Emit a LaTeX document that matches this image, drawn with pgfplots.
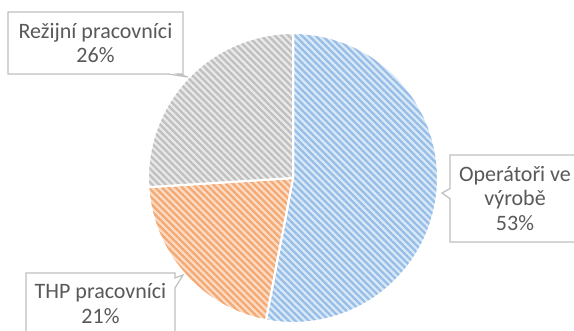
\documentclass[border=0pt]{standalone}
\usepackage{pgfplots}
\pgfplotsset{compat=1.18}
\usepackage{fontspec}
\setmainfont{Carlito}
\usetikzlibrary{patterns.meta,shapes.callouts}
\definecolor{bluebg}{HTML}{DAE8F7}
\definecolor{bluefg}{HTML}{96BEE7}
\definecolor{orangebg}{HTML}{FBDCC7}
\definecolor{orangefg}{HTML}{F4A972}
\definecolor{graybg}{HTML}{E9E9E9}
\definecolor{grayfg}{HTML}{C0C0C0}
\definecolor{txt}{HTML}{595959}
\definecolor{boxline}{HTML}{BFBFBF}
% data (percent)
\def\vA{53}% Operatori ve vyrobe
\def\vB{21}% THP pracovnici
\def\vC{26}% Rezijni pracovnici
\pgfmathsetmacro{\aStart}{90}
\pgfmathsetmacro{\aAB}{90-3.6*\vA}
\pgfmathsetmacro{\aBC}{\aAB-3.6*\vB}
\pgfmathsetmacro{\aEnd}{\aBC-3.6*\vC}
\begin{document}
\begin{tikzpicture}
\begin{axis}[name=ax, hide axis, scale only axis, width=574pt, height=331pt,
  xmin=0, xmax=574, ymin=0, ymax=331, clip=false,
  slice/.style={samples=120, variable=\t, draw=white, line width=2pt, line join=round}]
\addplot[slice, domain=\aAB:\aStart, preaction={fill=bluebg},
  pattern={Lines[angle=-45,distance=4.8pt,line width=2.3pt]}, pattern color=bluefg]
  ({293+145*cos(\t)},{153+145*sin(\t)}) -- (axis cs:293,153) -- cycle;
\addplot[slice, domain=\aBC:\aAB, preaction={fill=orangebg},
  pattern={Lines[angle=-45,distance=4.8pt,line width=2.3pt]}, pattern color=orangefg]
  ({293+145*cos(\t)},{153+145*sin(\t)}) -- (axis cs:293,153) -- cycle;
\addplot[slice, domain=\aEnd:\aBC, preaction={fill=graybg},
  pattern={Lines[angle=-45,distance=4.8pt,line width=2.3pt]}, pattern color=grayfg]
  ({293+145*cos(\t)},{153+145*sin(\t)}) -- (axis cs:293,153) -- cycle;
\tikzset{lbl/.style={rectangle callout, draw=boxline, line width=1.2pt, fill=white,
  text=txt, align=center, inner sep=2pt, callout pointer width=10pt,
  font=\fontsize{22}{24.5}\selectfont}}
\node[lbl, minimum width=175pt, minimum height=62pt,
  callout absolute pointer={(axis cs:188,254)}] at (axis cs:95.5,288)
  {Režijní pracovníci\\26\%};
\node[lbl, minimum width=130pt, minimum height=87pt,
  callout absolute pointer={(axis cs:442,138)}] at (axis cs:515,132.5)
  {Operátoři ve\\výrobě\\53\%};
\node[lbl, minimum width=149pt, minimum height=61pt,
  callout absolute pointer={(axis cs:183,56)}] at (axis cs:100.5,27.5)
  {THP pracovníci\\21\%};
\end{axis}
\pgfresetboundingbox
\useasboundingbox (ax.south west) rectangle (ax.north east);
\end{tikzpicture}
\end{document}
